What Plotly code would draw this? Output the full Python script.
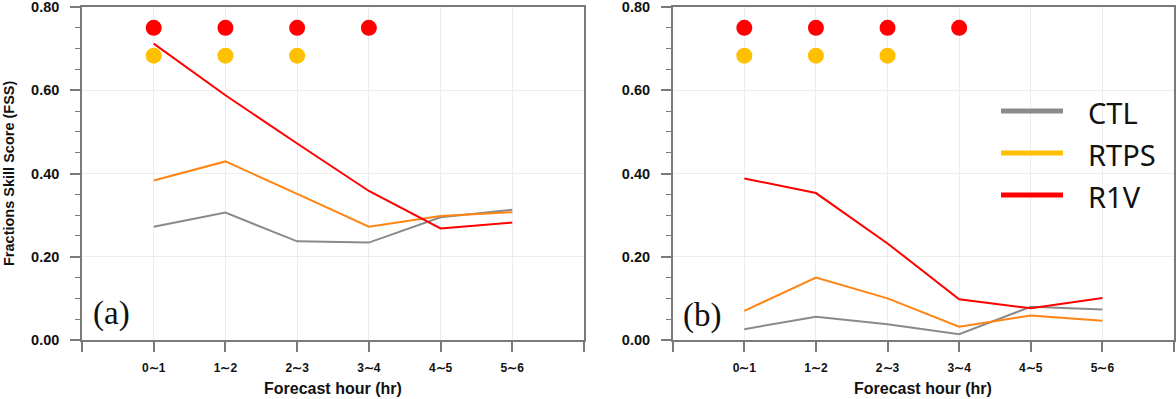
import plotly.graph_objects as go

# ---------------- data ----------------
categories = ["0∼1", "1∼2", "2∼3", "3∼4", "4∼5", "5∼6"]

a_ctl = [0.272, 0.306, 0.237, 0.234, 0.295, 0.313]
a_rtps = [0.383, 0.429, 0.351, 0.272, 0.298, 0.307]
a_r1v = [0.712, 0.588, 0.472, 0.358, 0.268, 0.282]

b_ctl = [0.026, 0.056, 0.038, 0.014, 0.080, 0.073]
b_rtps = [0.070, 0.150, 0.100, 0.032, 0.059, 0.046]
b_r1v = [0.388, 0.353, 0.232, 0.098, 0.076, 0.101]

# significance markers (categories where the difference is significant)
sig_r1v = ["0∼1", "1∼2", "2∼3", "3∼4"]
sig_rtps = ["0∼1", "1∼2", "2∼3"]
sig_r1v_level = 0.75
sig_rtps_level = 0.683

y_ticks = [0.0, 0.2, 0.4, 0.6, 0.8]
series_names = ["CTL", "RTPS", "R1V"]

# ---------------- styles ----------------
line_colors = {"CTL": "#8a8a8a", "RTPS": "#ff8412", "R1V": "#ff0000"}
legend_colors = {"CTL": "#8a8a8a", "RTPS": "#ffc000", "R1V": "#ff0000"}
dot_r1v = "#ff0000"
dot_rtps = "#ffc000"
axis_col = "#7a7a7a"
grid_col = "#ededed"

W, H = 1176, 399
panels = [
    dict(x0=82, x1=584),
    dict(x0=672.7, x1=1174),
]
ytop, ybot = 7, 340

xidx = list(range(len(categories)))
cat_to_idx = {c: i for i, c in enumerate(categories)}

fig = go.Figure()

panel_data = [
    (a_ctl, a_rtps, a_r1v),
    (b_ctl, b_rtps, b_r1v),
]

for p, (ctl, rtps, r1v) in enumerate(panel_data):
    xa = "x" if p == 0 else "x2"
    ya = "y" if p == 0 else "y2"
    for name, vals in zip(series_names, (ctl, rtps, r1v)):
        fig.add_trace(go.Scatter(
            x=xidx, y=vals, mode="lines", name=name,
            line=dict(color=line_colors[name], width=2),
            xaxis=xa, yaxis=ya, showlegend=False, hoverinfo="skip",
        ))
    fig.add_trace(go.Scatter(
        x=[cat_to_idx[c] for c in sig_r1v], y=[sig_r1v_level] * len(sig_r1v),
        mode="markers", marker=dict(color=dot_r1v, size=16, line=dict(width=0)),
        xaxis=xa, yaxis=ya, showlegend=False, hoverinfo="skip",
    ))
    fig.add_trace(go.Scatter(
        x=[cat_to_idx[c] for c in sig_rtps], y=[sig_rtps_level] * len(sig_rtps),
        mode="markers", marker=dict(color=dot_rtps, size=16, line=dict(width=0)),
        xaxis=xa, yaxis=ya, showlegend=False, hoverinfo="skip",
    ))

tick_font = dict(family="Liberation Sans", size=14.5, color="#111", weight="bold")
xtick_font = dict(family="Liberation Sans", size=12, color="#111", weight="bold")

def xaxis_cfg(p):
    pb = panels[p]
    return dict(
        domain=[pb["x0"] / W, pb["x1"] / W],
        range=[-1, len(categories)],
        tickmode="array",
        tickvals=[-1] + xidx + [len(categories)],
        ticktext=[""] + categories + [""],
        ticks="outside", ticklen=10, tickwidth=1.5, tickcolor=axis_col,
        showline=True, linecolor=axis_col, linewidth=1.5, mirror=True,
        showgrid=True, gridcolor=grid_col, gridwidth=1,
        zeroline=False, tickfont=xtick_font, ticklabelstandoff=6,
        ticklabeloverflow="allow", automargin=False,
        anchor="y" if p == 0 else "y2",
    )

def yaxis_cfg(p):
    return dict(
        domain=[(H - ybot) / H, (H - ytop) / H],
        range=[0, 0.8],
        tickmode="array", tickvals=y_ticks, tickformat=".2f",
        ticks="outside", ticklen=10, tickwidth=1.5, tickcolor=axis_col,
        minor=dict(dtick=0.05, tick0=0, ticks="outside", ticklen=5,
                   tickcolor=axis_col, tickwidth=1, showgrid=False),
        showline=True, linecolor=axis_col, linewidth=1.5, mirror=True,
        showgrid=True, gridcolor=grid_col, gridwidth=1,
        zeroline=False, tickfont=tick_font, ticklabelstandoff=8,
        ticklabeloverflow="allow", automargin=False,
        anchor="x" if p == 0 else "x2",
    )

annotations = []
annotations.append(dict(
    text="Fractions Skill Score (FSS)", x=9 / W, y=(H - 173) / H,
    xref="paper", yref="paper", textangle=-90, showarrow=False,
    xanchor="center", yanchor="middle",
    font=dict(family="Liberation Sans", size=14.5, color="#111", weight="bold"),
))
for p in range(2):
    pb = panels[p]
    annotations.append(dict(
        text="Forecast hour (hr)", x=(pb["x0"] + pb["x1"]) / 2 / W, y=(H - 388) / H,
        xref="paper", yref="paper", showarrow=False, xanchor="center", yanchor="middle",
        font=dict(family="Liberation Sans", size=16, color="#111", weight="bold"),
    ))
    annotations.append(dict(
        text="(a)" if p == 0 else "(b)",
        x=0.058 if p == 0 else 0.059, y=0.081 if p == 0 else 0.075,
        xref="x domain" if p == 0 else "x2 domain",
        yref="y domain" if p == 0 else "y2 domain",
        showarrow=False, xanchor="center", yanchor="middle",
        font=dict(family="Liberation Serif", size=33, color="#111"),
    ))

# legend drawn in panel (b)
shapes = []
leg_y = [111, 153, 195]
for name, yy in zip(series_names, leg_y):
    shapes.append(dict(
        type="line", xref="paper", yref="paper",
        x0=1001 / W, x1=1063 / W, y0=(H - yy) / H, y1=(H - yy) / H,
        line=dict(color=legend_colors[name], width=5),
    ))
    annotations.append(dict(
        text=name, x=1086 / W, y=(H - yy - 1) / H, xref="paper", yref="paper",
        showarrow=False, xanchor="left", yanchor="middle",
        font=dict(family="Noto Sans", size=29, color="#111"),
    ))

fig.update_layout(
    width=W, height=H,
    margin=dict(l=0, r=0, t=0, b=0, autoexpand=False),
    paper_bgcolor="white", plot_bgcolor="white",
    xaxis=xaxis_cfg(0), yaxis=yaxis_cfg(0),
    xaxis2=xaxis_cfg(1), yaxis2=yaxis_cfg(1),
    annotations=annotations, shapes=shapes,
    showlegend=False,
)

fig.write_html(
    "out.html",
    config={"displayModeBar": False},
    post_script="document.body.style.margin='0';document.body.style.overflow='hidden';",
)
